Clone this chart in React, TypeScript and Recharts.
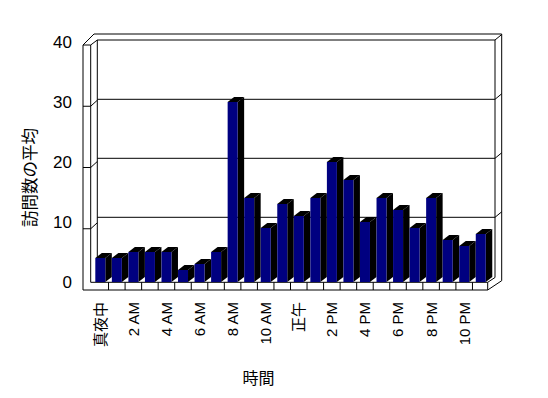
import React from 'react';
import { BarChart, Bar, XAxis, YAxis, Label } from 'recharts';

// 時間帯ごとの訪問数の平均
const hourLabels = [
  '真夜中', '1 AM', '2 AM', '3 AM', '4 AM', '5 AM', '6 AM', '7 AM', '8 AM', '9 AM', '10 AM', '11 AM',
  '正午', '1 PM', '2 PM', '3 PM', '4 PM', '5 PM', '6 PM', '7 PM', '8 PM', '9 PM', '10 PM', '11 PM',
];
const avgVisits = [4, 4, 5, 5, 5, 2, 3, 5, 30, 14, 9, 13, 11, 14, 20, 17, 10, 14, 12, 9, 14, 7, 6, 8];
const yTicks = [0, 10, 20, 30, 40];

const data = hourLabels.map((label, i) => ({ label, visits: avgVisits[i] }));

const W = 548;
const H = 398;
const FONT = '"Liberation Sans", "Noto Sans CJK JP", sans-serif';
const PLOT = { left: 92, right: 489, top: 42, bottom: 282 };

// 3D の奥行き
const DX = 6.5;
const DY = -5;

function Bar3D(props: any) {
  const { x, y, width, height } = props;
  if (width == null || height == null) return null;
  return (
    <g>
      <polygon
        points={`${x},${y} ${x + DX},${y + DY} ${x + width + DX},${y + DY} ${x + width},${y}`}
        fill="#000"
      />
      <polygon
        points={`${x + width},${y} ${x + width + DX},${y + DY} ${x + width + DX},${y + height + DY} ${x + width},${y + height}`}
        fill="#000"
      />
      <rect x={x} y={y} width={width} height={height} fill="#000080" />
    </g>
  );
}

function HourTick(props: any) {
  const { x, y, payload } = props;
  return (
    <text
      transform={`translate(${x},${y}) rotate(-90)`}
      textAnchor="end"
      dy="0.36em"
      fontSize={15}
      fontFamily={FONT}
      fill="#000"
    >
      {payload.value}
    </text>
  );
}

// 壁と床 (背景の 3D 枠)
function Walls() {
  const backY = (v: number) => 276.3 - 5.9 * v;
  const frontY = (v: number) => 290 - 6.125 * v;
  const band = (PLOT.right - PLOT.left) / hourLabels.length;
  const s = { stroke: '#000', strokeWidth: 1, fill: 'none' };
  return (
    <svg width={W} height={H} style={{ position: 'absolute', left: 0, top: 0 }}>
      {/* 左の壁 */}
      <line x1={83} y1={45} x2={83} y2={290} {...s} />
      <line x1={90.7} y1={45} x2={90.7} y2={282.3} {...s} />
      <line x1={83} y1={45} x2={90.7} y2={45} {...s} />
      <line x1={83} y1={45} x2={94} y2={34} {...s} />
      <line x1={90.7} y1={45} x2={97.3} y2={40} {...s} />
      <line x1={97.3} y1={40} x2={97.3} y2={276} {...s} />
      {/* 奥の壁 */}
      <line x1={94} y1={34} x2={501.7} y2={34} {...s} />
      <line x1={97.3} y1={40} x2={495} y2={40} {...s} />
      <line x1={495} y1={40} x2={501.7} y2={34.5} {...s} />
      {/* 右の壁 */}
      <line x1={501.7} y1={34} x2={501.7} y2={280.7} {...s} />
      <line x1={495} y1={40} x2={495} y2={277.5} {...s} />
      {/* 目盛線 */}
      {yTicks.filter((v) => v > 0 && v < 40).map((v) => (
        <g key={v}>
          <line x1={97.3} y1={backY(v)} x2={495} y2={backY(v)} {...s} />
          <line x1={495} y1={backY(v)} x2={501.7} y2={backY(v) - 5.5} {...s} />
          <line x1={83} y1={frontY(v)} x2={90.7} y2={frontY(v)} {...s} />
          <line x1={90.7} y1={frontY(v)} x2={97.3} y2={frontY(v) - 6} {...s} />
        </g>
      ))}
      {/* 床 */}
      <line x1={83} y1={290} x2={487.7} y2={290} {...s} />
      <line x1={90.7} y1={282.3} x2={487.7} y2={282.3} {...s} />
      <line x1={487.7} y1={282.3} x2={487.7} y2={290} {...s} />
      <line x1={487.7} y1={290} x2={501.7} y2={280.7} {...s} />
      <line x1={487.7} y1={282.3} x2={495} y2={277.5} {...s} />
      {hourLabels.slice(1).map((_, i) => {
        const bx = PLOT.left + band * (i + 1);
        return <line key={i} x1={bx} y1={282.3} x2={bx} y2={290} {...s} />;
      })}
    </svg>
  );
}

export default function App() {
  return (
    <div style={{ position: 'relative', width: W, height: H, background: '#fff' }}>
      <style>{'body{margin:0}'}</style>
      <Walls />
      <div style={{ position: 'absolute', left: 0, top: 0 }}>
        <BarChart
          width={W}
          height={H}
          data={data}
          barCategoryGap="20%"
          margin={{ top: PLOT.top, right: W - PLOT.right, bottom: 0, left: 0 }}
        >
          <XAxis
            dataKey="label"
            interval={1}
            axisLine={false}
            tickLine={false}
            tickSize={0}
            tickMargin={20}
            height={H - PLOT.bottom}
            tick={<HourTick />}
          >
            <Label
              content={(p: any) => {
                const vb = p.viewBox || {};
                return (
                  <text
                    x={vb.x + vb.width / 2 - 32}
                    y={384}
                    textAnchor="middle"
                    fontSize={16}
                    fontFamily={FONT}
                    fill="#000"
                  >
                    時間
                  </text>
                );
              }}
            />
          </XAxis>
          <YAxis
            domain={[0, 40]}
            ticks={yTicks}
            axisLine={false}
            tickLine={false}
            tickSize={0}
            tickMargin={20}
            width={PLOT.left}
            tick={{ fill: '#000', fontSize: 17, fontFamily: FONT }}
          >
            <Label
              content={() => (
                <text
                  transform="translate(30.5,177.5) rotate(-90)"
                  textAnchor="middle"
                  dy="0.36em"
                  fontSize={16.5}
                  fontFamily={FONT}
                  fill="#000"
                >
                  訪問数の平均
                </text>
              )}
            />
          </YAxis>
          <Bar dataKey="visits" shape={<Bar3D />} isAnimationActive={false} />
        </BarChart>
      </div>
    </div>
  );
}
